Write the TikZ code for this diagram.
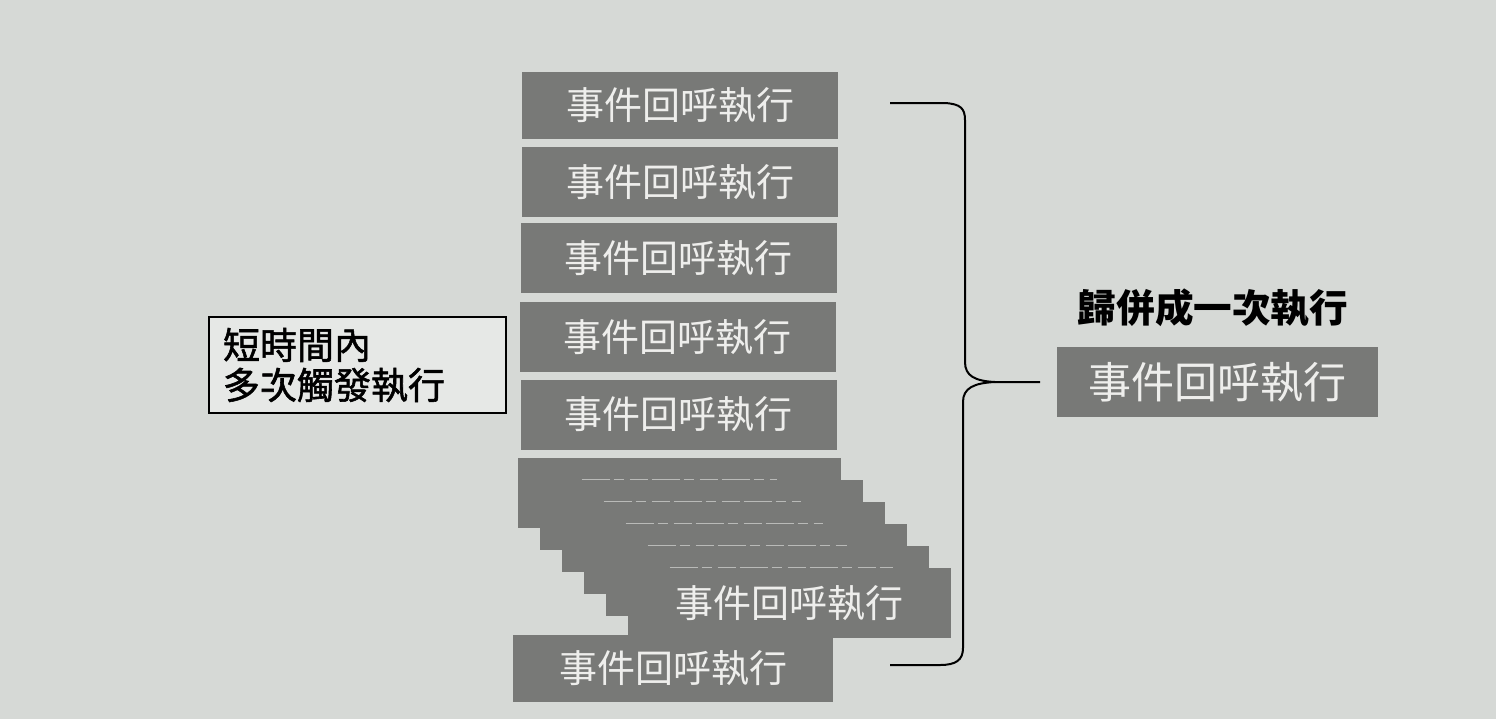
\documentclass[tikz,border=0pt]{standalone}
\usepackage{fontspec}
\newfontfamily\cjk{Noto Sans CJK TC}
\newfontfamily\cjkmed[BoldFont={Noto Sans CJK TC}, BoldFeatures={FakeBold=1.5}]{Noto Sans CJK TC}
\definecolor{bg}{RGB}{214,217,214}
\definecolor{boxgray}{RGB}{120,121,119}
\definecolor{boxtext}{RGB}{238,238,236}
\definecolor{ghost}{RGB}{185,186,184}
\begin{document}
\begin{tikzpicture}[x=0.5pt,y=-0.5pt,
  evbox/.style={fill=boxgray, text=boxtext, inner sep=0pt,
    minimum width=158pt, minimum height=35pt,
    font=\fontsize{19}{19}\selectfont\cjk},
  stackbox/.style={evbox, minimum width=161.5pt},
  ghostline/.style={draw=ghost, line width=0.6pt,
    dash pattern=on 14pt off 2pt on 5pt off 3pt on 9pt off 2pt},
  notebox/.style={draw=black, line width=1pt, fill=white!40!bg, inner xsep=7pt,
    inner ysep=0pt, text width=134.5pt, minimum height=48pt, align=left,
    font=\fontsize{18.5}{20}\selectfont\cjkmed\bfseries},
  labeltext/.style={inner sep=0pt, font=\fontsize{19.3}{19.3}\selectfont\cjk\bfseries},
  bracepath/.style={draw=black, line width=1pt}
]
\fill[bg] (0,0) rectangle (1496,719);
\useasboundingbox (0,0) rectangle (1496,719);

% left note
\node[notebox] (note) at (357.5,365) {短時間內\\多次觸發執行};

% column of callbacks
\node[evbox, minimum height=33.5pt] (b1) at (680,105.5) {事件回呼執行};
\node[evbox] (b2) at (680,182) {事件回呼執行};
\node[evbox] (b3) at (678.5,258) {事件回呼執行};
\node[evbox] (b4) at (677.5,337) {事件回呼執行};
\node[evbox] (b5) at (678.5,414.5) {事件回呼執行};

% staircase of overlapping callbacks
\node[stackbox] (s0) at (679.5,493) {};
\node[stackbox] (s1) at (701.5,515) {};
\node[stackbox] (s2) at (723.5,537) {};
\node[stackbox] (s3) at (745.5,559) {};
\node[stackbox] (s4) at (767.5,581) {};
\node[stackbox] (s5) at (789.5,603) {事件回呼執行};
\foreach \k/\r in {1/43,2/42,3/42,4/41,5/29}{
  \draw[ghostline] ([xshift=21pt]s\k.north west) -- ([xshift=-\r pt]s\k.north east);
}

% last callback
\node[evbox, minimum width=160pt, minimum height=33.5pt] (b6) at (673,668.5) {事件回呼執行};

% brace
\coordinate (btop) at (890,103);
\coordinate (bbot) at (890,665);
\coordinate (btip) at (1040,382);
\draw[bracepath] (btop) -- (945,103) .. controls (960,104) and (965,108) .. (965,120)
  -- (965,362) .. controls (965,376) and (975,381) .. (995,382) -- (btip);
\draw[bracepath] (995,382) .. controls (974,383) and (963,388) .. (963,402)
  -- (963,648) .. controls (963,660) and (956,665) .. (940,665) -- (bbot);

% right side
\node[labeltext] (lab) at (1213,308) {歸併成一次執行};
\node[evbox, minimum width=160.5pt, font=\fontsize{21.5}{21.5}\selectfont\cjk] (merged) at (1217.5,382) {事件回呼執行};
\end{tikzpicture}
\end{document}
